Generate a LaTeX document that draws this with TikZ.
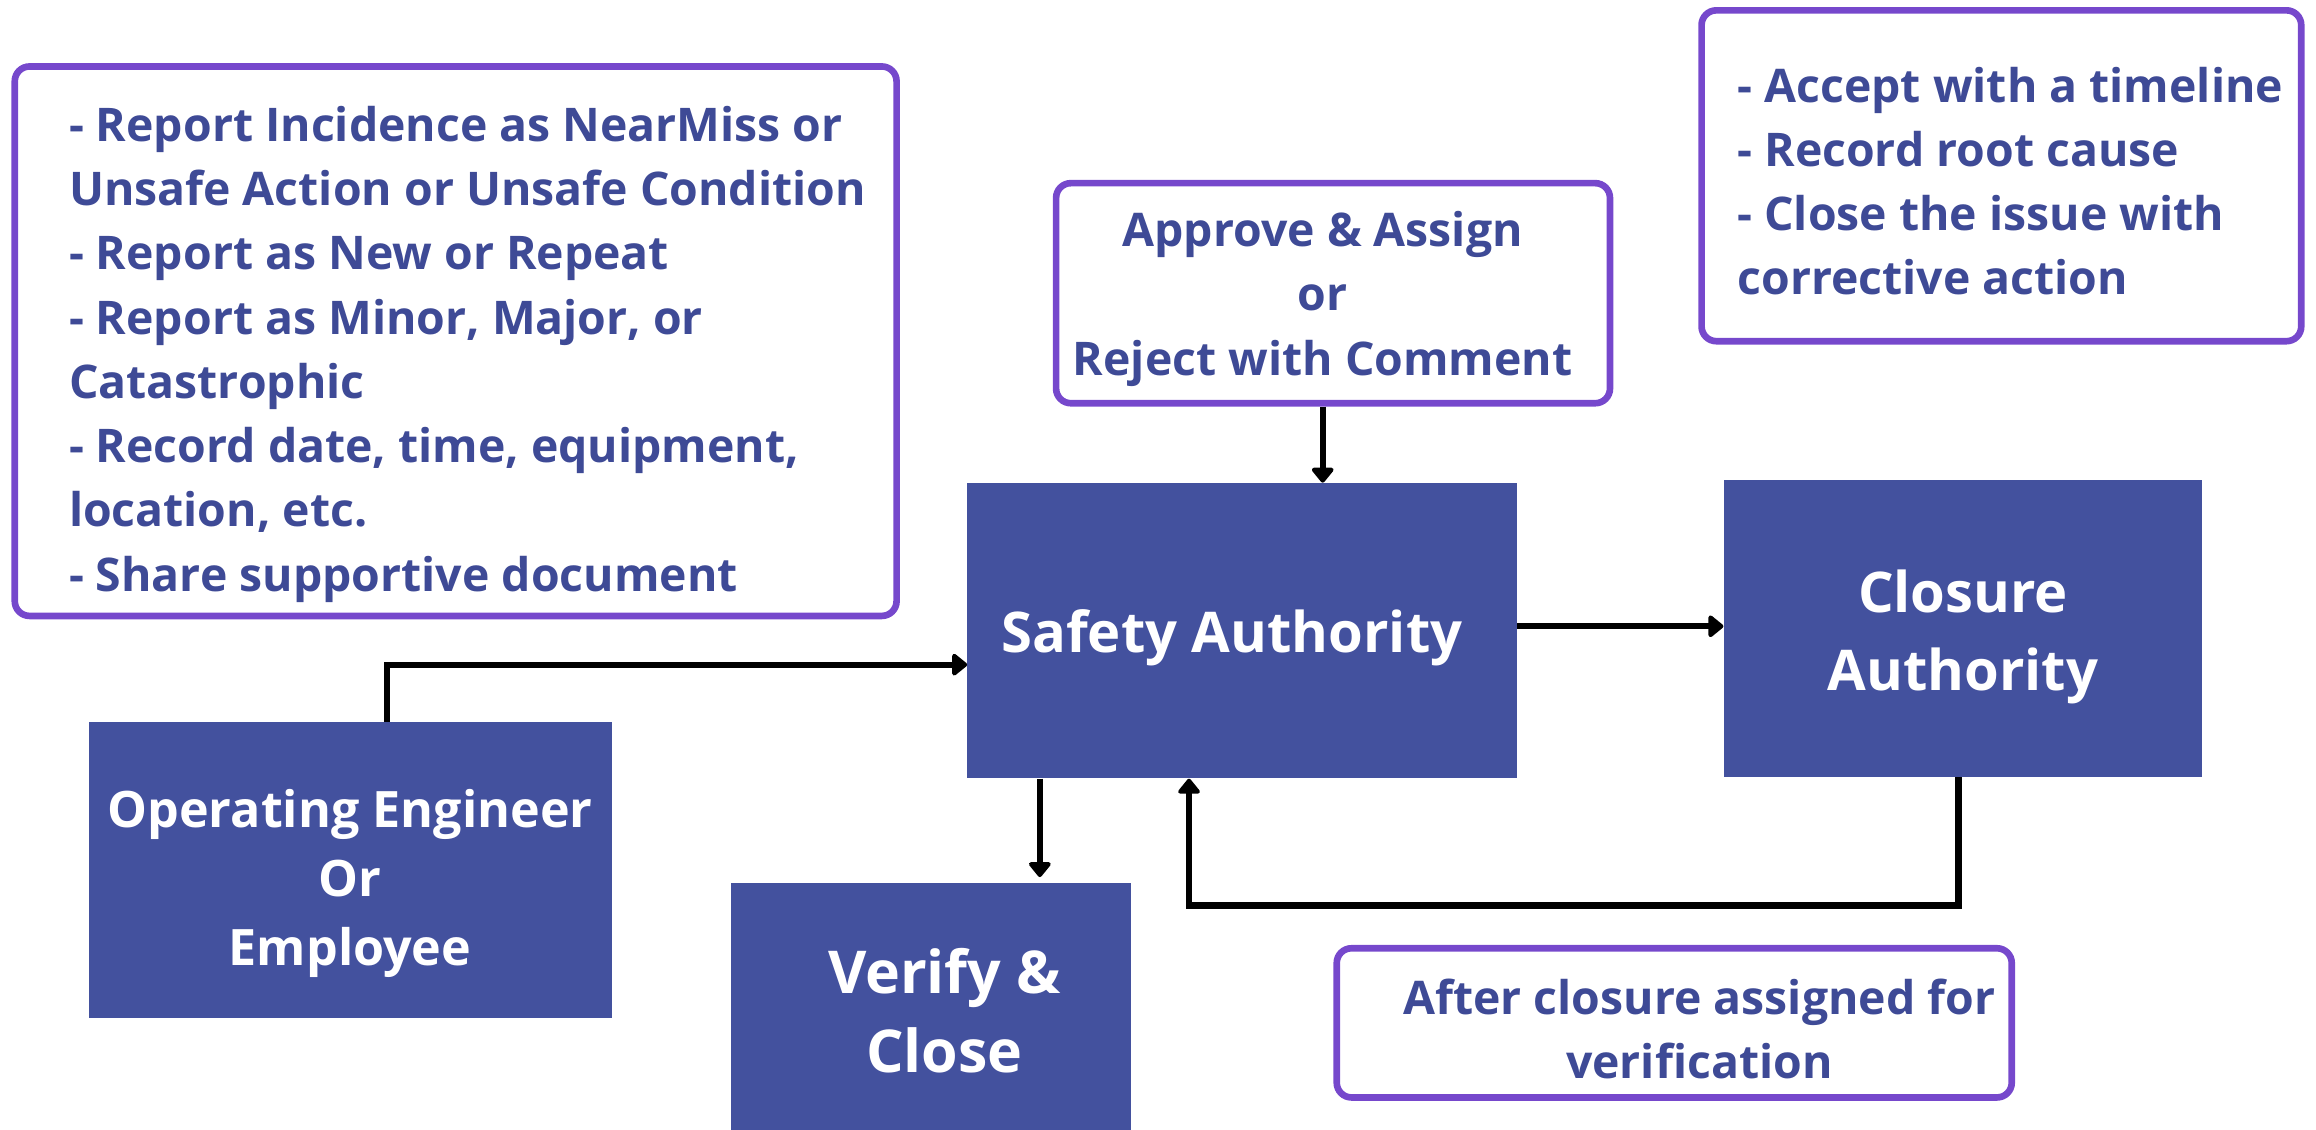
\documentclass[tikz,border=0pt]{standalone}
\usepackage{fontspec}
\setmainfont{Open Sans}
\usetikzlibrary{arrows.meta}
\definecolor{boxblue}{HTML}{43519E}
\definecolor{textblue}{HTML}{3E4A96}
\definecolor{notepurple}{HTML}{7648CC}
\begin{document}
\begin{tikzpicture}[x=1pt, y=-1pt,
		rolebox/.style={shape=rectangle, fill=boxblue, inner sep=0},
		roletext/.style={inner sep=0, text=white, align=center, text depth=0pt, font=\bfseries\fontsize{38}{53}\selectfont},
		notebox/.style={shape=rectangle, draw=notepurple, line width=4.5pt, rounded corners=10pt, inner sep=0},
		notetext/.style={inner sep=0, text=textblue, text depth=0pt, font=\bfseries\fontsize{31.4}{43.5}\selectfont},
		flow/.style={draw=black, line width=4.2pt, -{Triangle[length=11pt,width=17pt,round]}}]
	\useasboundingbox (0,0) rectangle (1568,765);
	\clip (0,0) rectangle (1568,765);
	% notes
	\node[notebox, minimum width=597pt, minimum height=372pt] (report) at (308.5,231){};
	\node[notetext, align=left] (report text) at ([xshift=8pt,yshift=-5pt]report.center){- Report Incidence as NearMiss or\\Unsafe Action or Unsafe Condition\\- Report as New or Repeat\\- Report as Minor, Major, or\\Catastrophic\\- Record date, time, equipment,\\location, etc.\\- Share supportive document};
	\node[notebox, minimum width=375pt, minimum height=149pt] (approve) at (902.5,198.5){};
	\node[notetext, align=center] (approve text) at ([xshift=-7pt]approve.center){Approve \& Assign\\or\\Reject with Comment};
	\node[notebox, minimum width=406pt, minimum height=224pt] (accept) at (1355,119){};
	\node[notetext, align=left] (accept text) at ([xshift=6pt,yshift=-3.5pt]accept.center){- Accept with a timeline\\- Record root cause\\- Close the issue with\\corrective action};
	\node[notebox, minimum width=457pt, minimum height=101pt] (after) at (1133.5,692.5){};
	\node[notetext, align=center] (after text) at ([xshift=17pt,yshift=-4pt]after.center){After closure assigned for\\verification};
	% roles
	\node[rolebox, minimum width=372pt, minimum height=200pt] (safety) at (841,427){};
	\node[roletext] (safety text) at ([xshift=-7pt]safety.center){Safety Authority};
	\node[rolebox, minimum width=324pt, minimum height=201pt] (closure) at (1329,425.5){};
	\node[roletext] (closure text) at ([yshift=-1pt]closure.center){Closure\\Authority};
	\node[rolebox, minimum width=354pt, minimum height=200pt] (oper) at (237,589){};
	\node[roletext, font=\bfseries\fontsize{34}{47}\selectfont] (oper text) at ([yshift=-5pt]oper.center){Operating Engineer\\Or\\Employee};
	\node[rolebox, minimum width=271pt, minimum height=174pt] (verify) at (630.5,685){};
	\node[roletext, font=\bfseries\fontsize{40}{54}\selectfont] (verify text) at ([xshift=9pt,yshift=1pt]verify.center){Verify \&\\Close};
	% connectors
	\coordinate (back) at (805,613);
	\draw[flow] ([xshift=25pt]oper.north) |- ([yshift=-23pt]safety.west);
	\draw[flow] ([xshift=-7pt]approve.south) -- ([xshift=-7pt]approve.south |- safety.north);
	\draw[flow] ([yshift=3pt]safety.east) -- ([yshift=3pt]safety.east -| closure.west);
	\draw[flow] ([xshift=73.5pt]verify.north |- safety.south) -- ([xshift=73.5pt,yshift=4pt]verify.north);
	\draw[flow] ([xshift=-3pt]closure.south) |- (back) -- (back |- safety.south);
\end{tikzpicture}
\end{document}
